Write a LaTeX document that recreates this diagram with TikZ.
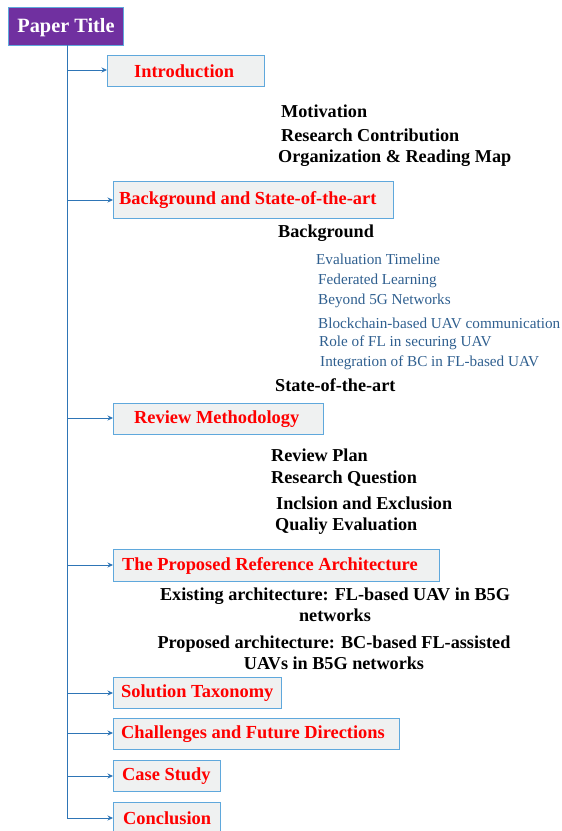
\documentclass[tikz,border=0pt]{standalone}
\usepackage{fontspec}
\setmainfont{Liberation Serif}
\usetikzlibrary{arrows.meta}
\definecolor{ttlpurple}{HTML}{7030A0}
\definecolor{boxfill}{HTML}{EFF1F1}
\definecolor{boxline}{HTML}{5FA8DC}
\definecolor{trunk}{HTML}{2E75B6}
\definecolor{subblue}{HTML}{2F5F8F}
\begin{document}
\begin{tikzpicture}[x=1pt,y=-1pt,
  secbox/.style={draw=boxline,line width=0.9pt,fill=boxfill,anchor=north west,inner sep=0pt},
  sectext/.style={anchor=west,inner sep=0pt,font=\fontsize{18.4}{20}\selectfont\bfseries,text=red},
  item/.style={anchor=west,inner sep=0pt,font=\fontsize{18.2}{21}\selectfont\bfseries,text=black},
  subitem/.style={anchor=west,inner sep=0pt,font=\fontsize{15.2}{17}\selectfont,text=subblue},
  link/.style={draw=trunk,line width=0.8pt,-{Stealth[length=5.5pt,width=5pt]}}]
\useasboundingbox (0,0) rectangle (562,831);
% title
\node[draw=boxline,line width=0.9pt,fill=ttlpurple,anchor=north west,minimum width=115pt,minimum height=38pt,inner sep=0pt] (title) at (8,7) {};
\node[anchor=center,inner sep=0pt,text=white,font=\fontsize{20.3}{22}\selectfont\bfseries] (titleT) at (66,27.5) {Paper Title};
% section boxes
\node[secbox,minimum width=157pt,minimum height=31pt] (intro) at (107,55) {};
\node[secbox,minimum width=280pt,minimum height=37pt] (bg) at (113,181) {};
\node[secbox,minimum width=210pt,minimum height=31pt] (rm) at (113,403) {};
\node[secbox,minimum width=326pt,minimum height=32pt] (pra) at (113,549) {};
\node[secbox,minimum width=168pt,minimum height=31pt] (st) at (113,677) {};
\node[secbox,minimum width=286pt,minimum height=31pt] (cfd) at (113,718) {};
\node[secbox,minimum width=107pt,minimum height=31pt] (cs) at (113,760) {};
\node[secbox,minimum width=107pt,minimum height=31pt] (con) at (113,802) {};
\node[sectext] (introT) at (134,71) {Introduction};
\node[sectext] (bgT) at (119,200.5) {Background and State-of-the-art};
\node[sectext] (rmT) at (134,419) {Review Methodology};
\node[sectext] (praT) at (122,565.5) {The Proposed Reference Architecture};
\node[sectext] (stT) at (121,693) {Solution Taxonomy};
\node[sectext] (cfdT) at (121,734) {Challenges and Future Directions};
\node[sectext] (csT) at (122,776) {Case Study};
\node[sectext] (conT) at (123,818) {Conclusion};
% trunk
\coordinate (tTop) at (67,45);
\coordinate (tBot) at (67,818);
\draw[trunk,line width=0.8pt] (tTop) -- (tBot);
\coordinate (a1) at (67,70);
\coordinate (a2) at (67,200);
\coordinate (a3) at (67,418);
\coordinate (a4) at (67,565);
\coordinate (a5) at (67,693);
\coordinate (a6) at (67,733);
\coordinate (a7) at (67,776);
\draw[link] (a1) -- (intro.west|-a1);
\draw[link] (a2) -- (bg.west|-a2);
\draw[link] (a3) -- (rm.west|-a3);
\draw[link] (a4) -- (pra.west|-a4);
\draw[link] (a5) -- (st.west|-a5);
\draw[link] (a6) -- (cfd.west|-a6);
\draw[link] (a7) -- (cs.west|-a7);
\draw[link] (tBot) -- (con.west|-tBot);
% intro items
\node[item] (i1) at (281,111) {Motivation};
\node[item] (i2) at (281,135) {Research Contribution};
\node[item] (i3) at (278,158) {Organization \& Reading Map};
% background items
\node[item] (b1) at (278,233) {Background};
\node[subitem] (s1) at (316,259) {Evaluation Timeline};
\node[subitem] (s2) at (318,281) {Federated Learning};
\node[subitem] (s3) at (318,301) {Beyond 5G Networks};
\node[subitem] (s4) at (318,323) {Blockchain-based UAV communication};
\node[subitem] (s5) at (319,343) {Role of FL in securing UAV};
\node[subitem] (s6) at (320,363) {Integration of BC in FL-based UAV};
\node[item] (b2) at (275,385) {State-of-the-art};
% review items
\node[item] (r1) at (271,455) {Review Plan};
\node[item] (r2) at (271,479) {Research Question};
\node[item] (r3) at (276,503) {Inclsion and Exclusion};
\node[item] (r4) at (275,526) {Qualiy Evaluation};
% architecture items
\node[item,anchor=center,align=center] (p1) at (335,604.5) {Existing architecture: FL-based UAV in B5G\\networks};
\node[item,anchor=center,align=center] (p2) at (334,652.5) {Proposed architecture: BC-based FL-assisted\\UAVs in B5G networks};
\end{tikzpicture}
\end{document}
